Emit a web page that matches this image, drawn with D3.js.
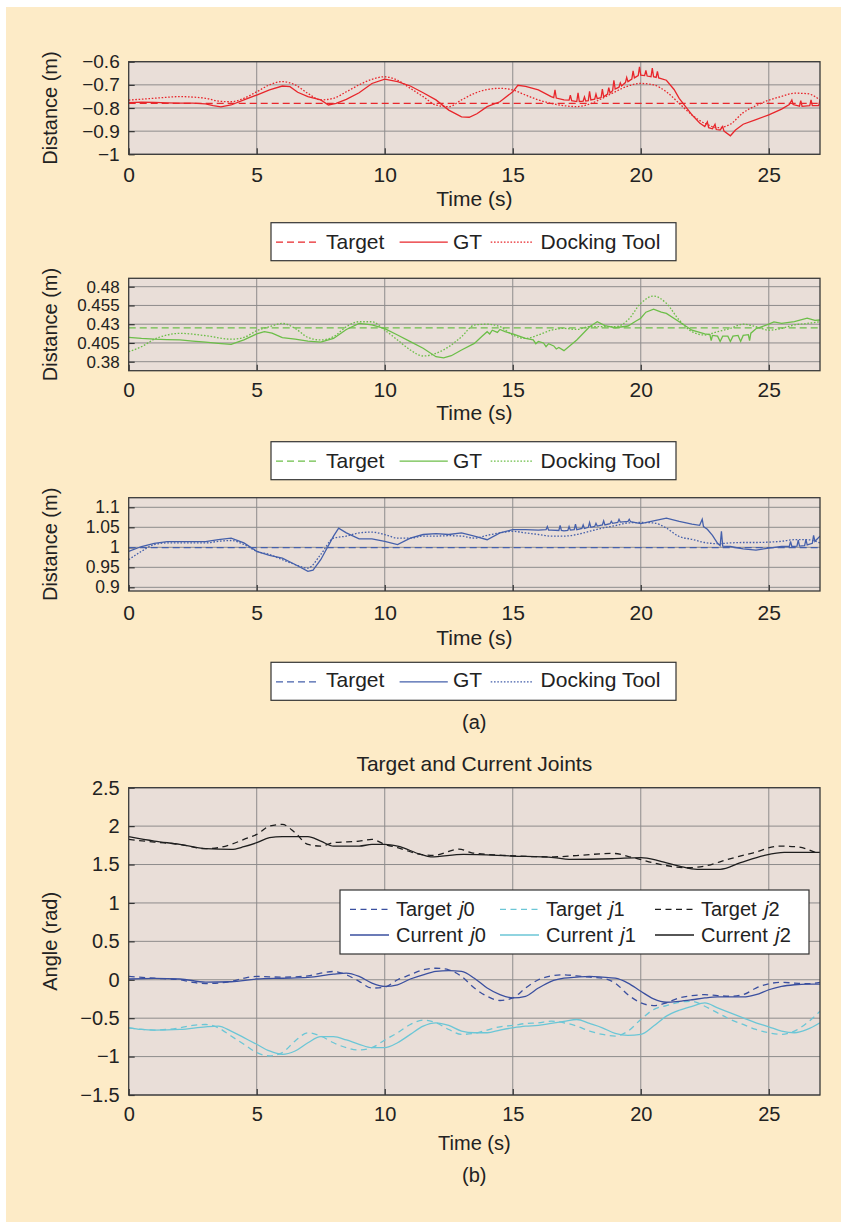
<!DOCTYPE html>
<html>
<head>
<meta charset="utf-8">
<script src="https://cdn.jsdelivr.net/npm/d3@7"></script>
<style>
  html, body { margin: 0; padding: 0; background: #fff; }
  svg { display: block; font-family: "Liberation Sans", Arial, Helvetica, sans-serif; }
</style>
</head>
<body>
<div id="chart"></div>
<script>
// ---- data ----
var timeTicks = [0, 5, 10, 15, 20, 25]

// (a) x-direction, red
var xTicksY = [-1, -0.9, -0.8, -0.7, -0.6]
var xTarget = [[0, -0.78], [27, -0.78]]
var xGT = [[0,-0.777],[0.5,-0.775],[1,-0.776],[1.5,-0.778],[2,-0.779],[2.5,-0.779],[3,-0.782],[3.3,-0.79],[3.6,-0.795],[4,-0.787],[4.5,-0.765],[5,-0.744],[5.5,-0.722],[6,-0.705],[6.3,-0.708],[6.6,-0.732],[7,-0.751],[7.5,-0.765],[7.8,-0.787],[8.1,-0.78],[8.5,-0.763],[9,-0.734],[9.5,-0.694],[10,-0.675],[10.5,-0.686],[11,-0.705],[11.5,-0.734],[12,-0.765],[12.5,-0.809],[13,-0.838],[13.3,-0.84],[13.6,-0.825],[14,-0.794],[14.5,-0.773],[15,-0.73],[15.2,-0.702],[15.5,-0.707],[16,-0.722],[16.5,-0.751],
  [16.6,-0.755],[16.65,-0.722],[16.7,-0.757],[17,-0.765],[17.2,-0.766],[17.25,-0.745],[17.3,-0.768],[17.5,-0.772],[17.55,-0.735],[17.6,-0.772],[17.75,-0.77],[17.8,-0.752],[17.85,-0.77],[17.95,-0.768],[18,-0.728],[18.05,-0.765],[18.2,-0.762],[18.25,-0.74],[18.3,-0.76],[18.45,-0.755],[18.5,-0.718],[18.55,-0.752],[18.7,-0.74],[18.75,-0.712],[18.8,-0.735],[18.9,-0.725],[18.95,-0.68],[19,-0.718],[19.15,-0.71],[19.2,-0.692],[19.25,-0.705],[19.4,-0.69],[19.45,-0.668],[19.5,-0.686],[19.65,-0.675],[19.7,-0.64],[19.75,-0.67],[19.9,-0.66],[19.95,-0.622],[20,-0.658],[20.15,-0.66],[20.2,-0.638],[20.25,-0.662],[20.4,-0.665],[20.45,-0.628],[20.5,-0.665],[20.6,-0.668],[20.65,-0.642],[20.7,-0.67],
  [21,-0.68],[21.3,-0.72],[21.5,-0.758],[22,-0.83],[22.3,-0.865],[22.5,-0.88],[22.6,-0.86],[22.65,-0.885],[22.8,-0.89],[22.9,-0.87],[22.95,-0.893],[23.1,-0.895],[23.2,-0.88],[23.25,-0.9],[23.5,-0.92],[23.7,-0.895],[24,-0.87],[24.5,-0.85],[25,-0.83],[25.5,-0.805],[25.8,-0.785],[25.9,-0.765],[25.95,-0.785],[26.2,-0.792],[26.25,-0.768],[26.3,-0.793],[26.6,-0.79],[26.65,-0.765],[26.7,-0.79],[26.95,-0.79],[27,-0.765]]
var xDock = [[0,-0.766],[1,-0.758],[2,-0.751],[3,-0.758],[3.5,-0.77],[4,-0.773],[4.5,-0.758],[5,-0.73],[5.5,-0.70],[6,-0.686],[6.5,-0.70],[7,-0.737],[7.5,-0.765],[8,-0.758],[8.5,-0.73],[9,-0.70],[9.5,-0.676],[10,-0.665],[10.5,-0.68],[11,-0.715],[11.5,-0.751],[12,-0.787],[12.5,-0.794],[13,-0.765],[13.5,-0.737],[14,-0.72],[14.5,-0.715],[15,-0.722],[15.5,-0.744],[16,-0.765],[16.5,-0.78],[17,-0.79],[17.5,-0.794],[18,-0.783],[18.5,-0.758],[19,-0.73],[19.5,-0.705],[20,-0.694],[20.5,-0.70],[21,-0.73],[21.5,-0.78],[22,-0.83],[22.5,-0.866],[23,-0.885],[23.5,-0.87],[24,-0.82],[24.5,-0.79],[25,-0.766],[25.5,-0.75],[26,-0.736],[26.5,-0.738],[27,-0.765]]

// (a) y-direction, green
var yTicksY = [0.38, 0.405, 0.43, 0.455, 0.48]
var yTarget = [[0, 0.425], [27, 0.425]]
var yGT = [[0,0.4124],[0.5,0.411],[1,0.41],[1.5,0.4095],[2,0.409],[2.5,0.4075],[3,0.406],[3.5,0.4045],[4,0.403],[4.5,0.409],[5,0.417],[5.3,0.42],[5.6,0.418],[6,0.412],[6.5,0.41],[7,0.4075],[7.5,0.406],[8,0.411],[8.5,0.423],[9,0.431],[9.5,0.429],[10,0.424],[10.5,0.4156],[11,0.4067],[11.5,0.398],[12,0.3867],[12.3,0.385],[12.6,0.388],[13,0.3956],[13.5,0.4044],[13.8,0.414],[14,0.42],[14.1,0.417],[14.2,0.422],[14.4,0.419],[14.5,0.423],[14.7,0.42],[15,0.417],[15.5,0.411],[15.8,0.409],[15.9,0.404],[16,0.407],[16.2,0.405],[16.3,0.4],[16.4,0.404],[16.6,0.401],[16.7,0.397],[16.8,0.399],[17,0.3947],[17.5,0.409],[18,0.4267],[18.3,0.4333],[18.6,0.428],[19,0.4253],[19.5,0.4276],[19.8,0.434],[20,0.438],[20.2,0.446],[20.5,0.45],[20.8,0.446],[21,0.4444],[21.5,0.4333],[22,0.422],[22.5,0.417],[22.7,0.416],[22.75,0.408],[22.8,0.415],[23,0.414],[23.1,0.407],[23.2,0.414],[23.4,0.414],[23.5,0.407],[23.6,0.414],[23.8,0.415],[23.9,0.407],[24,0.415],[24.2,0.416],[24.25,0.408],[24.3,0.418],[24.5,0.424],[25,0.43],[25.2,0.433],[25.5,0.431],[26,0.4333],[26.5,0.438],[26.8,0.435],[27,0.4356]]
var yDock = [[0,0.3933],[0.5,0.40],[1,0.41],[1.5,0.4156],[2,0.4178],[3,0.4147],[4,0.41],[4.5,0.4124],[5,0.4213],[5.5,0.4267],[6,0.431],[6.5,0.4244],[7,0.4124],[7.5,0.409],[8,0.4133],[8.5,0.4267],[9,0.4333],[9.5,0.4333],[10,0.422],[10.5,0.409],[11,0.3956],[11.5,0.3876],[12,0.3911],[12.5,0.40],[13,0.4133],[13.5,0.4289],[14,0.43],[14.5,0.4267],[15,0.4156],[15.5,0.411],[16,0.4156],[16.5,0.422],[17,0.4244],[17.5,0.423],[18,0.4267],[18.5,0.4267],[19,0.4267],[19.5,0.4356],[20,0.4578],[20.5,0.4676],[21,0.4578],[21.5,0.4356],[22,0.42],[22.5,0.4156],[23,0.42],[23.5,0.4244],[24,0.43],[24.5,0.4267],[25,0.422],[25.5,0.4244],[26,0.429],[26.5,0.431],[27,0.4333]]

// (a) z-direction, blue
var zTicksY = [0.9, 0.95, 1, 1.05, 1.1]
var zTarget = [[0, 0.999], [27, 0.999]]
var zGT = [[0,0.99],[0.5,1.002],[1,1.01],[1.5,1.014],[2,1.014],[3,1.014],[3.5,1.019],[4,1.023],[4.5,1.011],[5,0.99],[5.5,0.98],[6,0.973],[6.5,0.957],[7,0.94],[7.2,0.943],[7.5,0.969],[8,1.028],[8.2,1.048],[8.5,1.036],[9,1.021],[9.5,1.021],[10,1.015],[10.5,1.007],[11,1.023],[11.5,1.032],[12,1.034],[12.5,1.032],[13,1.036],[13.5,1.028],[14,1.019],[14.5,1.036],[15,1.044],[15.5,1.044],[16,1.043],[16.3,1.044],[16.35,1.052],[16.4,1.043],[16.5,1.043],[16.8,1.042],[16.85,1.055],[16.9,1.042],[17,1.041],[17.15,1.042],[17.2,1.052],[17.25,1.043],[17.4,1.044],[17.45,1.058],[17.5,1.044],[17.7,1.047],[17.75,1.056],[17.8,1.047],[17.95,1.05],[18,1.062],[18.05,1.05],[18.2,1.052],[18.25,1.06],[18.3,1.053],[18.5,1.056],[18.55,1.066],[18.6,1.056],[18.8,1.059],[18.85,1.065],[18.9,1.06],[19.1,1.062],[19.15,1.07],[19.2,1.063],[19.5,1.065],[19.55,1.07],[19.6,1.064],[20,1.059],[20.5,1.066],[21,1.073],[21.5,1.065],[22,1.058],[22.3,1.055],[22.4,1.07],[22.45,1.052],[22.6,1.045],[22.8,1.03],[23,1.01],[23.1,1.004],[23.15,1.04],[23.2,1.003],[23.5,1.002],[24,0.996],[24.5,0.993],[25,0.998],[25.5,1.002],[25.8,1.002],[25.85,1.015],[25.9,1.002],[26.1,1.003],[26.15,1.018],[26.2,1.003],[26.4,1.004],[26.45,1.02],[26.5,1.006],[26.7,1.01],[26.75,1.03],[26.8,1.015],[27,1.028]]
var zDock = [[0,0.969],[0.5,0.99],[1,1.007],[1.5,1.011],[2,1.011],[3,1.011],[3.5,1.015],[4,1.017],[4.5,1.007],[5,0.99],[5.5,0.982],[6,0.969],[6.5,0.957],[7,0.948],[7.5,0.982],[8,1.023],[8.5,1.028],[9,1.036],[9.5,1.038],[10,1.032],[10.5,1.023],[11,1.023],[11.5,1.028],[12,1.028],[12.5,1.029],[13,1.028],[13.5,1.023],[14,1.03],[14.5,1.036],[15,1.04],[15.5,1.036],[16,1.032],[16.5,1.028],[17,1.028],[17.5,1.032],[18,1.04],[18.5,1.048],[19,1.054],[19.5,1.061],[20,1.062],[20.5,1.061],[21,1.048],[21.5,1.027],[22,1.02],[22.5,1.012],[23,1.009],[23.5,1.011],[24,1.012],[24.5,1.012],[25,1.013],[25.5,1.015],[26,1.019],[26.5,1.019],[27,1.011]]

// (b) joints
var jointTicksY = [-1.5, -1, -0.5, 0, 0.5, 1, 1.5, 2, 2.5]
var targetJ0 = [[0,0.043],[1,0.02],[2,0],[2.5,-0.034],[3,-0.05],[3.5,-0.043],[4,-0.02],[4.5,0.02],[5,0.043],[6,0.034],[7,0.05],[7.5,0.086],[8,0.108],[8.5,0.065],[9,-0.02],[9.5,-0.108],[10,-0.095],[10.5,0],[11,0.065],[11.5,0.13],[12,0.15],[12.5,0.13],[13,0.043],[13.5,-0.108],[14,-0.215],[14.5,-0.27],[15,-0.237],[15.5,-0.108],[16,0],[16.5,0.05],[17,0.065],[17.5,0.05],[18,0.034],[18.5,0.02],[19,-0.043],[19.5,-0.194],[20,-0.3],[20.5,-0.336],[21,-0.3],[21.5,-0.237],[22,-0.207],[22.5,-0.194],[23,-0.207],[23.5,-0.215],[24,-0.194],[24.5,-0.108],[25,-0.052],[25.5,-0.034],[26,-0.043],[26.5,-0.052],[27,-0.034]]
var currentJ0 = [[0,0.01],[1,0.017],[2,0.01],[3,-0.03],[4,-0.026],[5,0.01],[6,0.02],[7,0.03],[8,0.073],[8.5,0.086],[9,0.043],[9.5,-0.043],[10,-0.086],[10.5,-0.065],[11,0.01],[11.5,0.065],[12,0.108],[12.5,0.12],[13,0.108],[13.5,0.02],[14,-0.108],[14.5,-0.194],[15,-0.237],[15.5,-0.215],[16,-0.108],[16.5,-0.02],[17,0.02],[17.5,0.034],[18,0.043],[18.5,0.034],[19,0.02],[19.5,-0.043],[20,-0.15],[20.5,-0.25],[21,-0.293],[21.5,-0.28],[22,-0.26],[22.5,-0.237],[23,-0.224],[24,-0.224],[24.5,-0.194],[25,-0.13],[25.5,-0.086],[26,-0.065],[26.5,-0.056],[27,-0.056]]
var targetJ1 = [[0,-0.625],[1,-0.655],[2,-0.625],[2.5,-0.595],[3,-0.582],[3.5,-0.625],[4,-0.733],[4.5,-0.84],[5,-0.948],[5.5,-0.991],[6,-0.948],[6.5,-0.797],[7,-0.69],[7.5,-0.733],[8,-0.82],[8.5,-0.884],[9,-0.914],[9.5,-0.884],[10,-0.784],[10.5,-0.69],[11,-0.582],[11.5,-0.526],[12,-0.56],[12.5,-0.647],[13,-0.711],[13.5,-0.698],[14,-0.655],[14.5,-0.612],[15,-0.595],[15.5,-0.569],[16,-0.56],[16.5,-0.539],[17,-0.56],[17.5,-0.603],[18,-0.668],[18.5,-0.711],[19,-0.733],[19.5,-0.668],[20,-0.517],[20.5,-0.388],[21,-0.336],[21.5,-0.293],[22,-0.28],[22.5,-0.345],[23,-0.431],[23.5,-0.517],[24,-0.582],[24.5,-0.647],[25,-0.69],[25.5,-0.711],[26,-0.668],[26.5,-0.56],[27,-0.41]]
var currentJ1 = [[0,-0.625],[0.5,-0.647],[1,-0.655],[2,-0.647],[3,-0.612],[3.5,-0.603],[4,-0.668],[4.5,-0.754],[5,-0.84],[5.5,-0.927],[6,-0.97],[6.5,-0.927],[7,-0.82],[7.5,-0.741],[8,-0.741],[8.5,-0.784],[9,-0.84],[9.5,-0.884],[10,-0.884],[10.5,-0.82],[11,-0.711],[11.5,-0.603],[12,-0.56],[12.5,-0.595],[13,-0.668],[13.5,-0.69],[14,-0.69],[14.5,-0.655],[15,-0.625],[15.5,-0.603],[16,-0.595],[16.5,-0.569],[17,-0.543],[17.5,-0.517],[18,-0.569],[18.5,-0.625],[19,-0.698],[19.5,-0.724],[20,-0.711],[20.5,-0.603],[21,-0.474],[21.5,-0.397],[22,-0.345],[22.5,-0.302],[23,-0.366],[23.5,-0.431],[24,-0.496],[24.5,-0.56],[25,-0.612],[25.5,-0.668],[26,-0.69],[26.5,-0.647],[27,-0.56]]
var targetJ2 = [[0,1.827],[1,1.792],[2,1.762],[3,1.706],[3.5,1.719],[4,1.762],[4.5,1.827],[5,1.892],[5.5,2.0],[6,2.022],[6.5,1.913],[7,1.762],[7.5,1.74],[8,1.784],[9,1.805],[9.5,1.827],[10,1.762],[10.5,1.719],[11.4,1.632],[11.9,1.62],[12.9,1.70],[13.4,1.653],[14.6,1.62],[16.6,1.6],[17.6,1.62],[18.9,1.645],[19.7,1.59],[20.75,1.502],[21.8,1.458],[22.5,1.48],[23.4,1.567],[24.4,1.653],[25.4,1.74],[26.1,1.73],[26.9,1.645]]
var currentJ2 = [[0,1.862],[1,1.805],[2,1.762],[3,1.706],[4,1.697],[4.5,1.732],[5,1.784],[5.5,1.849],[6,1.862],[7,1.862],[7.5,1.805],[8,1.74],[9,1.74],[9.5,1.762],[10,1.762],[10.5,1.74],[11.4,1.632],[11.8,1.60],[13.07,1.632],[15,1.61],[16.6,1.59],[17.2,1.567],[18.9,1.575],[20,1.59],[20.75,1.545],[21.5,1.48],[22.2,1.437],[23.1,1.437],[23.9,1.524],[24.8,1.615],[25.6,1.658],[27,1.658]]

// ---- drawing ----
var W = 841, H = 1223
var X0 = 128.7, X1 = 820

var svg = d3.select('#chart').append('svg')
    .attr('width', W).attr('height', H)

svg.append('rect').attr('x', 6).attr('y', 7).attr('width', W - 6).attr('height', H - 8)
    .attr('fill', '#fdebc7')

var fmt = d3.format('~g')

function panel(opt) {
    var x = d3.scaleLinear().domain([0, 27]).range([X0, X1])
    var y = d3.scaleLinear().domain(opt.domain).range([opt.bottom, opt.top])
    var g = svg.append('g')
    var id = 'clip' + opt.name

    g.append('clipPath').attr('id', id).append('rect')
        .attr('x', X0).attr('y', opt.top).attr('width', X1 - X0).attr('height', opt.bottom - opt.top)

    g.append('rect').attr('x', X0).attr('y', opt.top).attr('width', X1 - X0).attr('height', opt.bottom - opt.top)
        .attr('fill', '#e9ded8')

    // grid
    g.selectAll('.vg').data(timeTicks.slice(1)).enter().append('line')
        .attr('x1', d => x(d)).attr('x2', d => x(d)).attr('y1', opt.top).attr('y2', opt.bottom)
        .attr('stroke', '#8e8c8c').attr('stroke-width', 1)
    g.selectAll('.hg').data(opt.ticks).enter().append('line')
        .attr('x1', X0).attr('x2', X1).attr('y1', d => y(d)).attr('y2', d => y(d))
        .attr('stroke', '#8e8c8c').attr('stroke-width', 1)

    // axes (ticks point inward)
    var ax = g.append('g').attr('transform', 'translate(0,' + opt.bottom + ')')
        .call(d3.axisBottom(x).tickValues(timeTicks).tickSize(-6).tickPadding(opt.xpad).tickFormat(fmt))
    var ay = g.append('g').attr('transform', 'translate(' + X0 + ',0)')
        .call(d3.axisLeft(y).tickValues(opt.ticks).tickSize(-6).tickPadding(9).tickFormat(fmt))
    ;[ax, ay].forEach(a => {
        a.select('.domain').remove()
        a.selectAll('line').attr('stroke', '#333').attr('stroke-width', 1.2)
        a.selectAll('text').attr('fill', '#222')
            .attr('font-family', '"Liberation Sans", Arial, sans-serif')
    })
    ax.selectAll('text').attr('font-size', opt.fs + 'px')
    ay.selectAll('text').attr('font-size', opt.yfs + 'px')

    // series
    var lines = g.append('g').attr('clip-path', 'url(#' + id + ')')
    opt.series.forEach(s => {
        var line = d3.line().x(d => x(d[0])).y(d => y(d[1]))
            .curve(s.smooth ? d3.curveMonotoneX : d3.curveLinear)
        lines.append('path').attr('d', line(s.data))
            .attr('fill', 'none').attr('stroke', s.color).attr('stroke-width', s.width || 1.3)
            .attr('stroke-dasharray', s.dash || null)
    })

    g.append('rect').attr('x', X0).attr('y', opt.top).attr('width', X1 - X0).attr('height', opt.bottom - opt.top)
        .attr('fill', 'none').attr('stroke', '#3a3a3a').attr('stroke-width', 1.3)

    g.append('text').attr('x', (X0 + X1) / 2).attr('y', opt.xlabelY)
        .attr('text-anchor', 'middle').attr('font-size', opt.fs + 'px').attr('fill', '#222')
        .text('Time (s)')
    g.append('text').attr('transform', 'translate(56.5,' + (opt.top + opt.bottom) / 2 + ') rotate(-90)')
        .attr('text-anchor', 'middle').attr('font-size', '20px').attr('fill', '#222')
        .text(opt.ylabel)
}

var dashA = '7,4', dotA = '1.6,1.7', dashB = '6,4.5'

function legendA(top, color, textBase) {
    var g = svg.append('g')
    g.append('rect').attr('x', 271).attr('y', top).attr('width', 405).attr('height', 38)
        .attr('fill', '#fff').attr('stroke', '#333').attr('stroke-width', 1.2)
    var items = [
        {label: 'Target', dash: dashA, x0: 276, x1: 319, tx: 326},
        {label: 'GT', dash: null, x0: 399.6, x1: 447.8, tx: 453},
        {label: 'Docking Tool', dash: dotA, x0: 490.7, x1: 533.6, tx: 540.6}
    ]
    var ly = top + 19.5
    items.forEach(it => {
        g.append('line').attr('x1', it.x0).attr('x2', it.x1).attr('y1', ly).attr('y2', ly)
            .attr('stroke', color).attr('stroke-width', 1.3).attr('stroke-dasharray', it.dash)
        g.append('text').attr('x', it.tx).attr('y', textBase).attr('font-size', '21px').attr('fill', '#222')
            .text(it.label)
    })
}

var RED = '#e8262b', GREEN = '#6cbe48', BLUE = '#4560ab'
var J0 = '#3a4f9f', J1 = '#6bc6d6', J2 = '#1e1e1e'

panel({name: 'x', domain: [-1, -0.6], top: 61.7, bottom: 154.3, ticks: xTicksY, xpad: 12.4,
    fs: 21, yfs: 19, xlabelY: 206, ylabel: 'Distance (m)',
    series: [
        {data: xTarget, color: RED, dash: dashA},
        {data: xDock, color: RED, dash: dotA, smooth: true},
        {data: xGT, color: RED}
    ]})
legendA(222.7, RED, 248.5)

panel({name: 'y', domain: [0.368, 0.4912], top: 278.3, bottom: 370.7, ticks: yTicksY, xpad: 11,
    fs: 21, yfs: 17, xlabelY: 419.5, ylabel: 'Distance (m)',
    series: [
        {data: yTarget, color: GREEN, dash: dashA},
        {data: yDock, color: GREEN, dash: dotA, smooth: true},
        {data: yGT, color: GREEN}
    ]})
legendA(441.7, GREEN, 467.7)

panel({name: 'z', domain: [0.8908, 1.124], top: 497.7, bottom: 591, ticks: zTicksY, xpad: 14,
    fs: 21, yfs: 17.5, xlabelY: 644.5, ylabel: 'Distance (m)',
    series: [
        {data: zTarget, color: BLUE, dash: dashA},
        {data: zDock, color: BLUE, dash: dotA, smooth: true},
        {data: zGT, color: BLUE}
    ]})
legendA(662.3, BLUE, 687.3)

svg.append('text').attr('x', 474.3).attr('y', 729).attr('text-anchor', 'middle')
    .attr('font-size', '20px').attr('fill', '#222').text('(a)')

// (b)
svg.append('text').attr('x', 474.3).attr('y', 771).attr('text-anchor', 'middle')
    .attr('font-size', '21px').attr('fill', '#222').text('Target and Current Joints')

panel({name: 'j', domain: [-1.5, 2.5], top: 787.7, bottom: 1095, ticks: jointTicksY, xpad: 11.7,
    fs: 20, yfs: 20, xlabelY: 1149.5, ylabel: 'Angle (rad)',
    series: [
        {data: targetJ2, color: J2, dash: dashB, smooth: true},
        {data: currentJ2, color: J2, smooth: true},
        {data: targetJ1, color: J1, dash: dashB, smooth: true},
        {data: currentJ1, color: J1, smooth: true},
        {data: targetJ0, color: J0, dash: dashB, smooth: true},
        {data: currentJ0, color: J0, smooth: true}
    ]})

var lg = svg.append('g')
lg.append('rect').attr('x', 340).attr('y', 890).attr('width', 469).attr('height', 64)
    .attr('fill', '#fff').attr('stroke', '#333').attr('stroke-width', 1.2)
var legB = [
    {pre: 'Target ', n: '0', color: J0, dash: dashB, col: 0, row: 0},
    {pre: 'Target ', n: '1', color: J1, dash: dashB, col: 1, row: 0},
    {pre: 'Target ', n: '2', color: J2, dash: dashB, col: 2, row: 0},
    {pre: 'Current ', n: '0', color: J0, dash: null, col: 0, row: 1},
    {pre: 'Current ', n: '1', color: J1, dash: null, col: 1, row: 1},
    {pre: 'Current ', n: '2', color: J2, dash: null, col: 2, row: 1}
]
var colX = [350, 500, 655], rowLine = [909.3, 935], rowText = [916, 941.7]
legB.forEach(it => {
    var x0 = colX[it.col]
    lg.append('line').attr('x1', x0).attr('x2', x0 + 39).attr('y1', rowLine[it.row]).attr('y2', rowLine[it.row])
        .attr('stroke', it.color).attr('stroke-width', 1.3).attr('stroke-dasharray', it.dash)
    var t = lg.append('text').attr('x', x0 + 46).attr('y', rowText[it.row])
        .attr('font-size', '20px').attr('fill', '#222').attr('xml:space', 'preserve')
    t.append('tspan').text(it.pre)
    t.append('tspan').attr('font-style', 'italic').attr('dx', 2).text('j')
    t.append('tspan').text(it.n)
})

svg.append('text').attr('x', 474.3).attr('y', 1182).attr('text-anchor', 'middle')
    .attr('font-size', '20px').attr('fill', '#222').text('(b)')
</script>
</body>
</html>
